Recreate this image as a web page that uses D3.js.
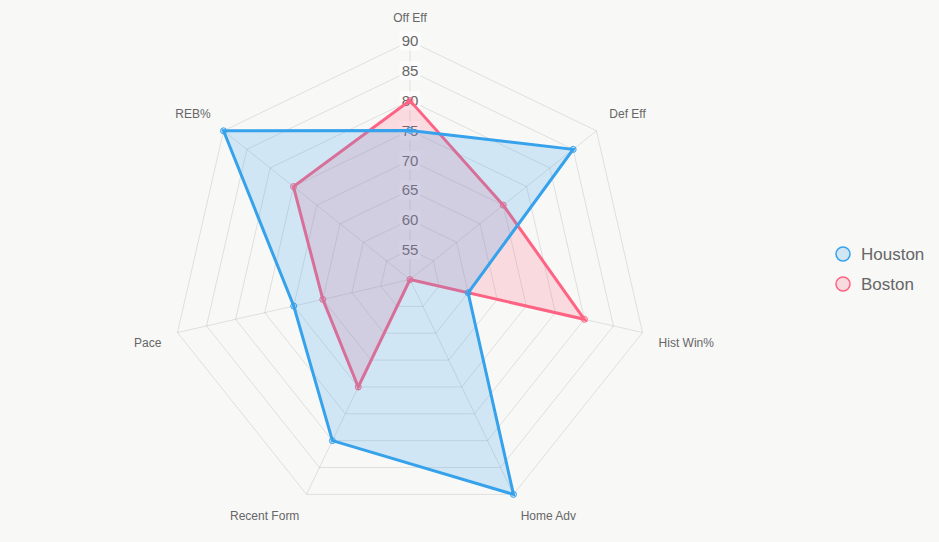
<!DOCTYPE html>
<html>
<head>
<meta charset="utf-8">
<script src="https://cdn.jsdelivr.net/npm/d3@7"></script>
<style>
  html, body { margin: 0; padding: 0; background: #f8f8f7; }
  svg { display: block; font-family: "Liberation Sans", Arial, sans-serif; }
</style>
</head>
<body>
<div id="chart"></div>
<script>
// chart data
const axes = ["Off Eff", "Def Eff", "Hist Win%", "Home Adv", "Recent Form", "Pace", "REB%"];
const houston = [75, 85, 60, 90, 80, 70, 90];
const boston = [80, 70, 80, 50, 70, 65, 75];
const tickValues = [55, 60, 65, 70, 75, 80, 85, 90];
const seriesNames = ["Houston", "Boston"];

const w = 939, h = 542;
const cx = 410, cy = 279.5; // centre of the radar
const R = 238.5; // outer radius

const svg = d3.select("#chart").append("svg").attr("width", w).attr("height", h);
svg.append("rect").attr("width", w).attr("height", h).attr("fill", "#f8f8f7");

const r = d3.scaleLinear().domain([50, 90]).range([0, R]);
const angle = (i) => (i * 2 * Math.PI) / axes.length;

const g = svg.append("g").attr("transform", `translate(${cx},${cy})`);

// grid rings
const ring = d3.lineRadial().angle((d, i) => angle(i)).radius((d) => r(d)).curve(d3.curveLinearClosed);
g.append("g")
  .selectAll("path")
  .data(tickValues)
  .enter()
  .append("path")
  .attr("d", (t) => ring(axes.map(() => t)))
  .attr("fill", "none")
  .attr("stroke", "rgba(0,0,0,0.1)")
  .attr("stroke-width", 1);

// angle lines
g.append("g")
  .selectAll("line")
  .data(axes)
  .enter()
  .append("line")
  .attr("x1", 0)
  .attr("y1", 0)
  .attr("x2", (d, i) => r(90) * Math.sin(angle(i)))
  .attr("y2", (d, i) => -r(90) * Math.cos(angle(i)))
  .attr("stroke", "rgba(0,0,0,0.1)")
  .attr("stroke-width", 1);

// tick labels with backdrop
const tickG = g.append("g");
tickValues.forEach((t) => {
  const tg = tickG.append("g").attr("transform", `translate(0,${-r(t)})`);
  const bg = tg.append("rect").attr("fill", "rgba(255,255,255,0.75)");
  const txt = tg.append("text")
    .attr("text-anchor", "middle")
    .attr("dy", "0.36em")
    .attr("font-size", 15)
    .attr("fill", "#666")
    .text(t);
  const tw = txt.node().getComputedTextLength();
  bg.attr("x", -tw / 2 - 2).attr("y", -9.5).attr("width", tw + 4).attr("height", 19);
});

// point labels
const labelDist = 255;
g.append("g")
  .selectAll("text")
  .data(axes)
  .enter()
  .append("text")
  .attr("font-size", 12)
  .attr("fill", "#666")
  .attr("text-anchor", (d, i) => {
    const a = (i * 360) / axes.length;
    if (a === 0 || a === 180) return "middle";
    return a < 180 ? "start" : "end";
  })
  .attr("x", (d, i) => labelDist * Math.sin(angle(i)))
  .attr("y", (d, i) => {
    const a = (i * 360) / axes.length;
    const y = -labelDist * Math.cos(angle(i));
    if (a < 90 || a > 270) return y - 3;
    return y + 11;
  })
  .text((d) => d);

// datasets, Boston underneath Houston
const colors = { Houston: [54, 162, 235], Boston: [255, 99, 132] };
const datasets = [
  { name: "Boston", values: boston },
  { name: "Houston", values: houston }
];
const radarLine = d3.lineRadial().angle((d, i) => angle(i)).radius((d) => r(d)).curve(d3.curveLinearClosed);

datasets.forEach((ds) => {
  const c = colors[ds.name];
  const solid = `rgb(${c.join(",")})`;
  const soft = `rgba(${c.join(",")},0.2)`;
  const dg = g.append("g");
  dg.append("path")
    .attr("d", radarLine(ds.values))
    .attr("fill", soft)
    .attr("stroke", solid)
    .attr("stroke-width", 3)
    .attr("stroke-linejoin", "miter");
  dg.selectAll("circle")
    .data(ds.values)
    .enter()
    .append("circle")
    .attr("cx", (d, i) => r(d) * Math.sin(angle(i)))
    .attr("cy", (d, i) => -r(d) * Math.cos(angle(i)))
    .attr("r", 3)
    .attr("fill", soft)
    .attr("stroke", solid)
    .attr("stroke-width", 1);
});

// legend
const legend = svg.append("g").attr("transform", "translate(843,254)");
seriesNames.forEach((name, i) => {
  const c = colors[name];
  legend.append("circle")
    .attr("cx", 0)
    .attr("cy", i * 30)
    .attr("r", 7)
    .attr("fill", `rgba(${c.join(",")},0.2)`)
    .attr("stroke", `rgb(${c.join(",")})`)
    .attr("stroke-width", 1.5);
  legend.append("text")
    .attr("x", 18)
    .attr("y", i * 30)
    .attr("dy", "0.35em")
    .attr("font-size", 17)
    .attr("fill", "#666")
    .text(name);
});
</script>
</body>
</html>
